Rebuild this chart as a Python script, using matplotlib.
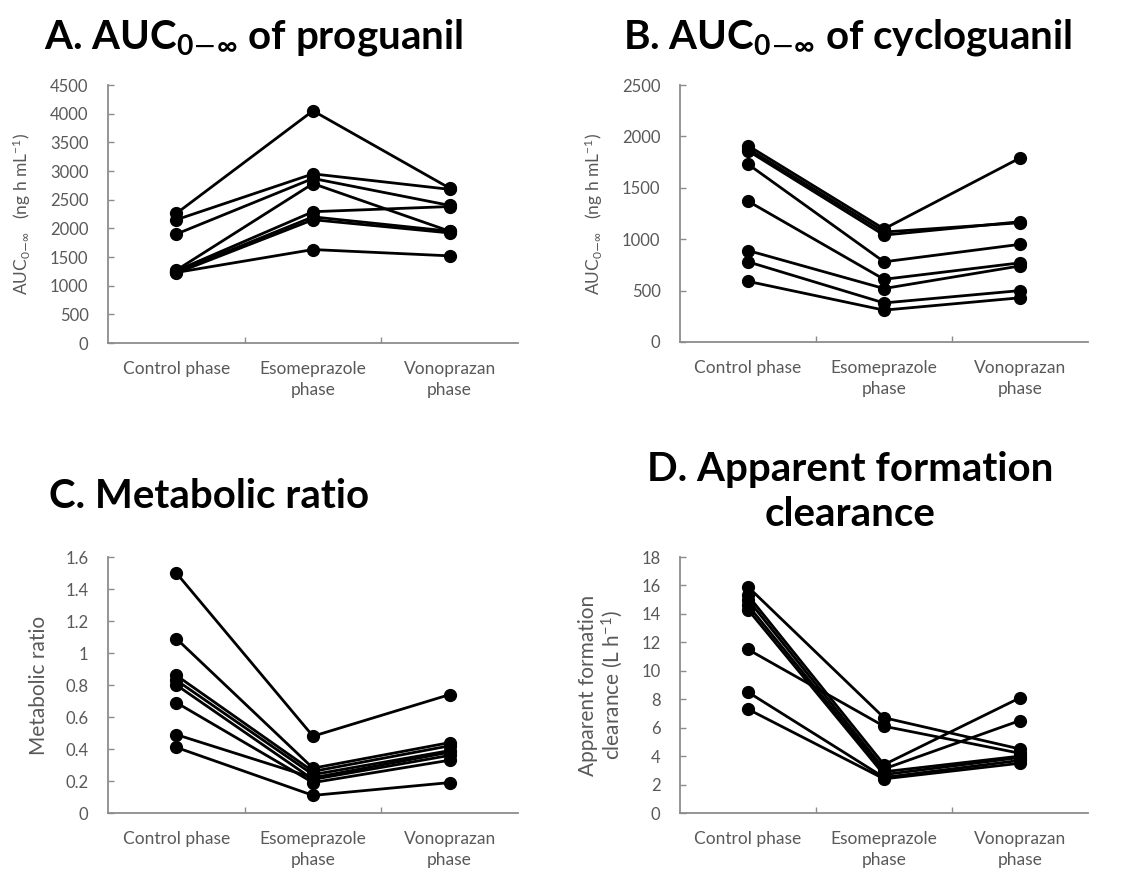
import matplotlib
matplotlib.use("Agg")
import matplotlib.pyplot as plt

plt.rcParams["font.family"] = ["Lato", "DejaVu Sans"]
plt.rcParams["mathtext.fontset"] = "custom"
plt.rcParams["mathtext.rm"] = "Lato"
plt.rcParams["mathtext.it"] = "Lato:italic"
plt.rcParams["mathtext.bf"] = "Lato:bold"
plt.rcParams["mathtext.default"] = "regular"

phases = ["Control phase", "Esomeprazole\nphase", "Vonoprazan\nphase"]

# one row per subject: control, esomeprazole, vonoprazan
auc_proguanil = [
    [2260, 4050, 2700],
    [2150, 2950, 2680],
    [1900, 2870, 2400],
    [1270, 2780, 1950],
    [1260, 2290, 2380],
    [1240, 2200, 1950],
    [1220, 2150, 1920],
    [1230, 1630, 1520],
]
auc_cycloguanil = [
    [1910, 1100, 1790],
    [1880, 1070, 1160],
    [1860, 1040, 1170],
    [1730, 780, 950],
    [1370, 610, 770],
    [890, 520, 740],
    [780, 380, 500],
    [590, 310, 430],
]
metabolic_ratio = [
    [1.50, 0.48, 0.74],
    [1.09, 0.28, 0.44],
    [0.86, 0.26, 0.42],
    [0.83, 0.24, 0.39],
    [0.80, 0.21, 0.36],
    [0.69, 0.19, 0.33],
    [0.49, 0.22, 0.38],
    [0.41, 0.11, 0.19],
]
formation_cl = [
    [15.9, 6.7, 4.5],
    [11.5, 6.1, 4.2],
    [15.3, 3.4, 8.1],
    [15.0, 3.1, 6.5],
    [14.6, 2.9, 4.0],
    [14.3, 2.7, 3.9],
    [8.5, 2.5, 3.7],
    [7.3, 2.4, 3.5],
]

GRAY = "#595959"
SPINE = "#8c8c8c"
W, H = 1136, 875

fig = plt.figure(figsize=(11.36, 8.75), dpi=100)


def axes_px(left, top, right, bottom):
    return fig.add_axes([left / W, 1 - bottom / H, (right - left) / W, (bottom - top) / H])


def panel(ax, data, ymax, ystep, yfmt, ylabel, ylsize, title, tx, ty):
    x = [0, 1, 2]
    for row in data:
        ax.plot(x, row, color="black", lw=2.0, marker="o", ms=8.5, mfc="black", mec="black", zorder=3)
    ax.set_xlim(-0.5, 2.5)
    ax.set_ylim(0, ymax)
    n = int(round(ymax / ystep))
    yt = [i * ystep for i in range(n + 1)]
    ax.set_yticks(yt)
    ax.set_yticklabels([yfmt(v) for v in yt])
    ax.set_xticks(x)
    ax.set_xticklabels(phases, linespacing=1.35)
    ax.set_xticks([0.5, 1.5], minor=True)
    ax.tick_params(axis="x", which="major", length=0, pad=13, labelsize=12.5, colors=GRAY)
    ax.tick_params(axis="x", which="minor", length=4, direction="in", color=SPINE, width=1)
    ax.tick_params(axis="y", length=4, direction="in", color=SPINE, width=1, labelsize=12,
                   colors=GRAY, pad=14)
    for s in ("top", "right"):
        ax.spines[s].set_visible(False)
    for s in ("left", "bottom"):
        ax.spines[s].set_color(SPINE)
        ax.spines[s].set_linewidth(1.3)
    ax.set_ylabel(ylabel, color=GRAY, fontsize=ylsize, labelpad=12, linespacing=1.05)
    fig.text(tx / W, 1 - ty / H, title, fontsize=29, fontweight="bold",
             ha="center", va="center", linespacing=1.3)


axA = axes_px(108, 85, 518, 343)
axB = axes_px(680, 85, 1088, 342)
axC = axes_px(108, 557, 518, 813)
axD = axes_px(680, 557, 1088, 813)

auc_label = r"AUC$_{0\mathsf{-}\infty}$   (ng h mL$^{-1}$)"
panel(axA, auc_proguanil, 4500, 500, lambda v: f"{v:.0f}", auc_label, 12.5,
      r"A. AUC$_{0\mathsf{-}\infty}$ of proguanil", 253, 38)
panel(axB, auc_cycloguanil, 2500, 500, lambda v: f"{v:.0f}", auc_label, 12.5,
      r"B. AUC$_{0\mathsf{-}\infty}$ of cycloguanil", 848, 38)
panel(axC, metabolic_ratio, 1.6, 0.2, lambda v: f"{v:.1f}".rstrip("0").rstrip(".") if v else "0",
      "Metabolic ratio", 15, "C. Metabolic ratio", 209, 497)
panel(axD, formation_cl, 18, 2, lambda v: f"{v:.0f}",
      "Apparent formation\nclearance (L h$^{-1}$)", 15, "D. Apparent formation\nclearance", 850, 492)

fig.savefig("out.png", dpi=100)
